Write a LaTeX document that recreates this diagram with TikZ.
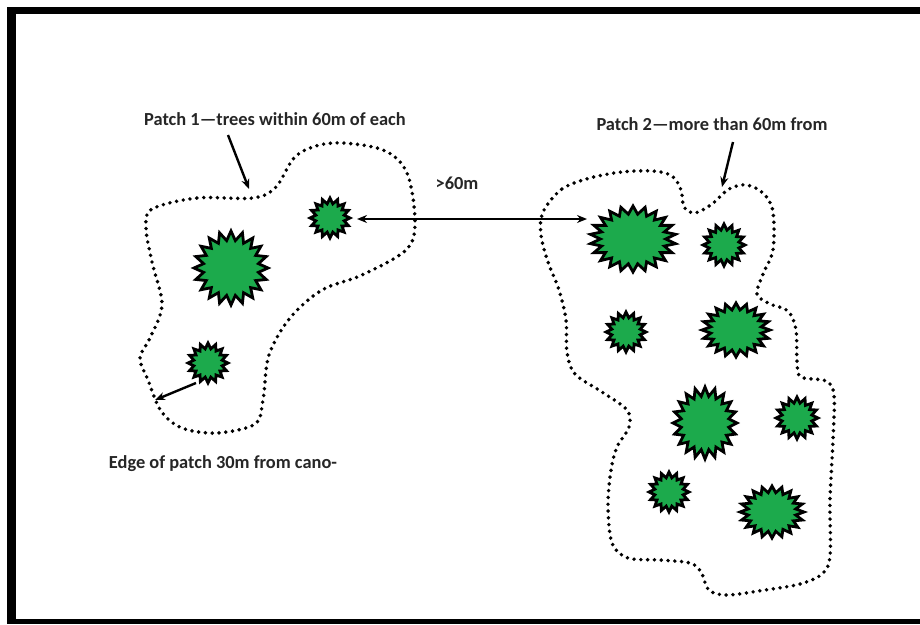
\documentclass[tikz,border=0pt]{standalone}
\usepackage{fontspec}
\setmainfont{Carlito}
\usetikzlibrary{arrows.meta}
\definecolor{treegreen}{RGB}{28,170,76}
\tikzset{
  treestyle/.style={draw=black, fill=treegreen, line width=2.8pt, line join=miter},
  dotline/.style={line width=3.9pt, dash pattern=on 0pt off 6.8pt, line cap=round},
  arr/.style={line width=2.4pt, -{Stealth[length=10pt,width=8pt]}},
  darr/.style={line width=2.4pt, {Stealth[length=10pt,width=8pt]}-{Stealth[length=10pt,width=8pt]}},
  lbl/.style={font=\fontsize{18.4}{21}\selectfont\bfseries, inner sep=0pt, text=black!85}
}
\newcommand\startree[6]{%
  \pgfmathtruncatemacro\lastk{2*#5-1}%
  \begin{scope}[shift={(#1,#2)}, xscale=#3, yscale=#4]
    \draw[treestyle] (90:1) \foreach \k in {1,...,\lastk}{ -- ({90+\k*180/#5}:{ifthenelse(isodd(\k),#6,1)}) } -- cycle;
  \end{scope}}
\begin{document}
\begin{tikzpicture}[x=1pt,y=-1pt]
\useasboundingbox (0,0) rectangle (920,624);
\fill[white] (0,0) rectangle (920,624);
% frame
\fill[black] (7,7) rectangle (16,624);
\fill[black] (7,7) rectangle (920,14);
\fill[black] (7,619) rectangle (920,624);

% patch outlines
\draw[dotline] plot[smooth cycle, tension=0.55] coordinates {
 (152,209) (197,198) (253,198) (276,187) (297,155) (333,143) (383,150) (407,173)
 (415,222) (406,250) (362,275) (322,290) (290,318) (269,355) (263,400) (255,424)
 (217,433) (182,428) (161,411) (148,380) (140,358) (150,338) (162,305) (152,262) (146,228)};
\draw[dotline] plot[smooth cycle, tension=0.55] coordinates {
 (543,212) (562,189) (590,178) (622,172) (653,171) (672,176) (681,190) (684,207)
 (695,213) (712,204) (729,189) (747,185) (764,194) (773,212) (773,250) (763,274)
 (757,294) (770,304) (788,311) (796,330) (797,362) (801,377) (826,381) (834,395)
 (833,440) (830,500) (830,556) (822,574) (800,584) (765,590) (727,595) (709,590)
 (701,572) (690,563) (660,560) (628,558) (612,543) (608,505) (611,470) (617,447)
 (629,427) (627,410) (602,392) (575,374) (567,352) (566,320) (559,290) (548,262) (541,235)};

% trees
\startree{330}{218}{20}{20}{16}{0.72}
\startree{231}{268}{37}{37}{20}{0.75}
\startree{208}{363}{20}{20}{16}{0.72}
\startree{633}{239}{43}{33}{22}{0.76}
\startree{724}{245}{21}{21}{16}{0.72}
\startree{626}{332}{20}{20}{16}{0.72}
\startree{736}{330}{34}{27}{20}{0.75}
\startree{705}{423}{32}{36}{20}{0.75}
\startree{797}{418}{21}{21}{16}{0.72}
\startree{669}{492}{20}{20}{16}{0.72}
\startree{772}{512}{32}{26}{20}{0.75}

% labels
\node[lbl] (p1) at (275,119) {Patch 1—trees within 60m of each};
\node[lbl] (p2) at (712,124) {Patch 2—more than 60m from};
\node[lbl] (d) at (457,183) {>60m};
\node[lbl] (edge) at (223,464) {Edge of patch 30m from cano-};

% arrows
\coordinate (a1s) at (228,135);
\coordinate (a1e) at (249,189);
\coordinate (a2s) at (733,142);
\coordinate (a2e) at (722,187);
\coordinate (a3s) at (357,219);
\coordinate (a3e) at (587,219);
\coordinate (a4s) at (196,383);
\coordinate (a4e) at (155,400);
\draw[arr] (a1s) -- (a1e);
\draw[arr] (a2s) -- (a2e);
\draw[darr] (a3s) -- (a3e);
\draw[arr] (a4s) -- (a4e);
\end{tikzpicture}
\end{document}
